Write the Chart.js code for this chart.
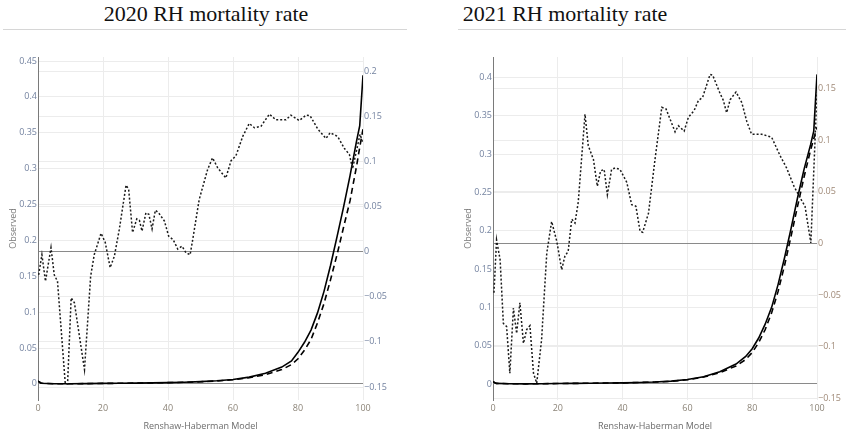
<!DOCTYPE html>
<html>
<head>
<meta charset="utf-8">
<script src="https://cdn.jsdelivr.net/npm/chart.js@4.4.1/dist/chart.umd.min.js"></script>
<style>
body { margin: 0; width: 849px; height: 437px; position: relative; background: #fff; overflow: hidden; }
.title { position: absolute; top: 3px; font-family: "Liberation Serif", "Times New Roman", serif; font-size: 22px; line-height: 22px; color: #111; white-space: nowrap; transform: translateX(-50%); }
.rule { position: absolute; top: 29px; height: 0; border-top: 1px solid #d6d6d6; }
canvas { position: absolute; top: 35px; }
</style>
</head>
<body>
<div class="title" style="left:206px">2020 RH mortality rate</div>
<div class="rule" style="left:3px;width:404px"></div>
<div class="title" style="left:565px">2021 RH mortality rate</div>
<div class="rule" style="left:458px;width:388px"></div>
<canvas id="chart2020" width="410" height="402" style="left:0px"></canvas>
<canvas id="chart2021" width="394" height="402" style="left:455px"></canvas>
<script>
// observed rates (dotted)
var obs2020Ages = [0.2, 1.2, 2.3, 4.0, 5.0, 6.0, 8.4, 9.1, 10.2, 11.2, 14.3, 16.2, 17.3, 19.4, 20.7, 22.2, 23.5, 25.0, 27.1, 27.9,
  29.1, 30.4, 31.2, 32.0, 33.2, 34.1, 35.1, 36.1, 37.1, 38.9, 40.2, 41.6, 43.0, 44.3, 45.5, 46.8, 47.6, 49.6, 52.2, 53.7,
  55.3, 57.8, 59.4, 60.9, 63.0, 65.0, 66.6, 68.6, 71.2, 73.2, 76.3, 77.8, 80.4, 82.5, 83.7, 86.1, 88.6, 89.9, 92.2, 94.3,
  95.8, 96.8, 99.1, 100];
var obs2020 = [0.152, 0.180, 0.143, 0.190, 0.152, 0.143, 0, 0, 0.120, 0.113, 0.020, 0.150, 0.180, 0.210, 0.197, 0.162, 0.178, 0.215, 0.277, 0.271,
  0.211, 0.230, 0.228, 0.213, 0.2385, 0.2365, 0.216, 0.242, 0.2385, 0.227, 0.206, 0.201, 0.188, 0.192, 0.183, 0.180, 0.201, 0.257, 0.299, 0.315,
  0.301, 0.287, 0.311, 0.318, 0.345, 0.363, 0.357, 0.359, 0.376, 0.368, 0.368, 0.3745, 0.367, 0.3745, 0.374, 0.355, 0.342, 0.350, 0.345, 0.328,
  0.320, 0.300, 0.348, 0.335];

var obs2021Ages = [0.3, 1.1, 2.2, 3.2, 4.2, 5.2, 6.3, 7.3, 8.3, 9.4, 10.4, 11.4, 12.5, 13.5, 15.0, 16.6, 18.1, 19.7, 21.2, 22.2,
  23.2, 24.3, 25.3, 26.3, 28.4, 29.4, 31.0, 32.2, 33.2, 34.3, 35.3, 36.6, 37.7, 39.2, 41.3, 42.8, 44.1, 45.4, 46.2, 48.0,
  50.0, 52.1, 53.4, 56.2, 57.2, 59.0, 60.3, 62.1, 63.4, 64.7, 67.0, 67.8, 69.9, 71.1, 72.1, 73.2, 75.0, 76.8, 78.3, 79.8,
  82.9, 86.0, 88.6, 90.6, 92.9, 94.8, 96.3, 98.1, 100];
var obs2021 = [0.119, 0.188, 0.162, 0.079, 0.075, 0.014, 0.099, 0.066, 0.106, 0.053, 0.071, 0.076, 0.014, 0.001, 0.058, 0.171, 0.212, 0.186, 0.149, 0.167,
  0.173, 0.215, 0.210, 0.237, 0.352, 0.311, 0.293, 0.258, 0.278, 0.280, 0.247, 0.280, 0.282, 0.280, 0.263, 0.234, 0.232, 0.199, 0.198, 0.223,
  0.293, 0.361, 0.359, 0.329, 0.337, 0.330, 0.348, 0.357, 0.370, 0.374, 0.404, 0.403, 0.381, 0.370, 0.354, 0.371, 0.381, 0.367, 0.343, 0.326,
  0.326, 0.322, 0.298, 0.282, 0.258, 0.243, 0.232, 0.184, 0.381];

// model curves (solid and dashed)
var modelAges = [0, 1, 5, 10, 15, 20, 25, 30, 35, 40, 45, 50, 55, 60, 65, 70, 75, 78, 80, 82, 84, 86, 88, 90, 92, 94, 96, 98, 99, 100];
var fit2020 = [0.004, 0.001, 0.0003, 0.0002, 0.0004, 0.0007, 0.0009, 0.0011, 0.0014, 0.0018, 0.0024, 0.0032, 0.0044, 0.0062, 0.0095,
  0.015, 0.0235, 0.032, 0.044, 0.058, 0.075, 0.099, 0.129, 0.165, 0.205, 0.246, 0.29, 0.338, 0.36, 0.43];
var dash2020 = [0.004, 0.001, 0.0003, 0.0002, 0.0004, 0.0007, 0.0009, 0.0011, 0.0014, 0.0018, 0.0023, 0.003, 0.0041, 0.0058, 0.0085,
  0.013, 0.020, 0.027, 0.035, 0.047, 0.062, 0.085, 0.112, 0.145, 0.180, 0.218, 0.255, 0.303, 0.33, 0.355];
var fit2021 = [0.003, 0.0008, 0.0003, 0.0002, 0.0003, 0.0006, 0.0008, 0.001, 0.0012, 0.0015, 0.002, 0.0026, 0.0037, 0.0058, 0.0095,
  0.016, 0.026, 0.036, 0.046, 0.060, 0.078, 0.100, 0.130, 0.165, 0.203, 0.243, 0.280, 0.312, 0.33, 0.404];
var dash2021 = [0.003, 0.0008, 0.0003, 0.0002, 0.0003, 0.0006, 0.0008, 0.001, 0.0012, 0.0015, 0.002, 0.0025, 0.0035, 0.0055, 0.009,
  0.0148, 0.0235, 0.032, 0.041, 0.054, 0.071, 0.093, 0.121, 0.155, 0.193, 0.232, 0.27, 0.305, 0.32, 0.335];

var xTicks = [0, 20, 40, 60, 80, 100];

var tickFont = { family: "Open Sans", size: 9 };

function points(xs, ys) {
  var out = [];
  for (var i = 0; i < xs.length; i++) {
    out.push({ x: xs[i], y: ys[i] });
  }
  return out;
}

function tickText(v) {
  var s = String(Math.round(v * 1000) / 1000);
  return s.replace("-", "\u2212");
}

function gridColor(c) {
  return c.tick && c.tick.value === 0 ? "#8a8a8a" : "#ececec";
}

function drawChart(id, obsX, obsY, fitY, dashY, yMin, yMax, y2Min, y2Max, y2Color, rightW) {
  var ctx = document.getElementById(id).getContext("2d");
  return new Chart(ctx, {
    type: "line",
    data: {
      datasets: [
        {
          label: "Observed",
          data: points(obsX, obsY),
          borderColor: "#1a1a1a",
          borderWidth: 1.5,
          borderDash: [2, 2],
          pointRadius: 0,
          yAxisID: "y",
        },
        {
          label: "Renshaw-Haberman",
          data: points(modelAges, fitY),
          borderColor: "#000",
          borderWidth: 1.6,
          pointRadius: 0,
          yAxisID: "y",
        },
        {
          label: "Renshaw-Haberman (dash)",
          data: points(modelAges, dashY),
          borderColor: "#000",
          borderWidth: 1.6,
          borderDash: [6, 4],
          pointRadius: 0,
          yAxisID: "y",
        },
      ],
    },
    options: {
      responsive: false,
      animation: false,
      devicePixelRatio: 1,
      layout: { padding: { top: 22, left: 0, right: 0, bottom: 0 } },
      plugins: { legend: { display: false }, tooltip: { enabled: false } },
      scales: {
        x: {
          type: "linear",
          min: 0,
          max: 100,
          afterBuildTicks: function (s) {
            s.ticks = xTicks.map(function (v) { return { value: v }; });
          },
          ticks: { color: "#8c8478", font: tickFont, padding: 3, maxRotation: 0 },
          grid: { color: "#ececec", drawTicks: false },
          border: { display: false },
          title: { display: true, text: "Renshaw-Haberman Model", color: "#6b6b6b", font: tickFont, padding: { top: 0, bottom: 5 } },
          afterFit: function (s) { s.height = 37; },
        },
        y: {
          position: "left",
          min: yMin,
          max: yMax,
          ticks: { stepSize: 0.05, includeBounds: false, color: "#7483a0", font: tickFont, padding: 1, callback: tickText },
          grid: { color: gridColor, drawTicks: false },
          border: { display: true, color: "#7a7a7a", width: 1 },
          title: { display: true, text: "Observed", color: "#7a7a7a", font: tickFont, padding: { top: 8, bottom: 0 } },
          afterFit: function (s) { s.width = 38; },
        },
        y2: {
          position: "right",
          min: y2Min,
          max: y2Max,
          ticks: { stepSize: 0.05, includeBounds: false, color: y2Color, font: tickFont, padding: 1, callback: tickText },
          grid: { color: gridColor, drawTicks: false },
          border: { display: false },
          afterFit: function (s) { s.width = rightW; },
        },
      },
    },
  });
}

drawChart("chart2020", obs2020Ages, obs2020, fit2020, dash2020, -0.0224, 0.4556, -0.1644, 0.2156, "#7483a0", 47);
drawChart("chart2021", obs2021Ages, obs2021, fit2021, dash2021, -0.0209, 0.4267, -0.1515, 0.1806, "#a08a78", 32);
</script>
</body>
</html>
